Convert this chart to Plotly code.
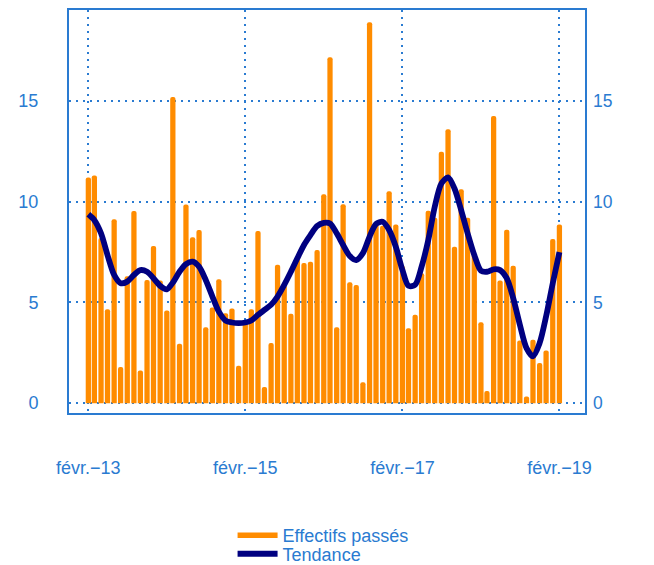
import pandas as pd
import plotly.graph_objects as go

# ---- data ----
months = pd.date_range("2013-02-01", periods=73, freq="MS")
effectifs = [11.2, 11.3, 8.2, 4.66, 9.12, 1.79, 6.3, 9.53, 1.62, 6.11,
             7.8, 6.08, 4.6, 15.19, 2.95, 9.86, 8.23, 8.59, 3.77, 4.74,
             6.15, 4.46, 4.7, 1.86, 4.0, 4.66, 8.54, 0.8, 2.98, 6.87,
             5.85, 4.43, 7.17, 6.95, 7.02, 7.6, 10.36, 17.17, 3.77, 9.87,
             6.0, 5.86, 1.03, 18.9, 8.89, 8.8, 10.52, 8.87, 6.8, 3.72,
             4.38, 6.44, 9.55, 9.2, 12.47, 13.59, 7.76, 10.62, 9.2, 7.4,
             4.01, 0.6, 14.25, 6.08, 8.6, 6.82, 3.11, 0.33, 3.15, 1.99,
             2.61, 8.14, 8.87]
tendance = [9.37, 9.08, 8.43, 7.35, 6.36, 5.95, 6.03, 6.36, 6.6, 6.52,
            6.2, 5.82, 5.65, 5.98, 6.52, 6.9, 7.02, 6.77, 6.11, 5.29,
            4.54, 4.1, 4.0, 3.97, 4.0, 4.1, 4.38, 4.63, 4.88, 5.29,
            5.87, 6.52, 7.19, 7.85, 8.34, 8.79, 8.95, 8.92, 8.43, 7.85,
            7.3, 7.1, 7.44, 8.26, 8.89, 9.0, 8.59, 7.76, 6.6, 5.82,
            5.87, 6.77, 8.09, 9.74, 10.9, 11.2, 10.65, 9.58, 8.43, 7.35,
            6.57, 6.52, 6.64, 6.6, 6.2, 5.21, 3.89, 2.73, 2.32, 2.98,
            4.3, 5.95, 7.49]
x_tickvals = ["2013-02-01", "2015-02-01", "2017-02-01", "2019-02-01"]
x_ticktext = ["févr.−13", "févr.−15", "févr.−17", "févr.−19"]
y_tickvals = [0, 5, 10, 15]

BLUE = "#2a7bd1"
ORANGE = "#ff8c00"
NAVY = "#000080"
FONT = "Liberation Sans, Arial, sans-serif"

DAY_MS = 86400000
bar_width = 24.5 * DAY_MS

fig = go.Figure()
fig.add_trace(go.Bar(x=months, y=effectifs, width=[bar_width] * len(months),
                     marker=dict(color=ORANGE, line=dict(width=0)),
                     showlegend=False, name="Effectifs passés"))
fig.add_trace(go.Scatter(x=months, y=tendance, mode="lines",
                         line=dict(color=NAVY, width=5.8, shape="spline", smoothing=0.8),
                         name="Tendance", legend="legend2"))
# legend entry (line style) for the bars; also carries the right-hand axis
fig.add_trace(go.Scatter(x=[None], y=[None], mode="lines", yaxis="y2",
                         line=dict(color=ORANGE, width=5.5),
                         name="Effectifs passés", legend="legend"))

yrange = [-0.49, 19.51]
fig.update_layout(
    width=654, height=565,
    margin=dict(l=61, r=77, t=2, b=160, autoexpand=False),
    plot_bgcolor="white", paper_bgcolor="white",
    font=dict(family=FONT, size=18, color=BLUE),
    barcornerradius=2.7,
    xaxis=dict(
        type="date",
        range=["2012-11-03", "2019-05-31"],
        tickvals=x_tickvals, ticktext=x_ticktext,
        showgrid=True, gridcolor=BLUE, gridwidth=1.5, griddash="2px,5px",
        showline=True, linecolor=BLUE, linewidth=2, mirror=True,
        ticks="", ticklabelstandoff=37, automargin=False,
        tickfont=dict(size=18, color=BLUE),
        zeroline=False,
    ),
    yaxis=dict(
        range=yrange, tickvals=y_tickvals,
        showgrid=True, gridcolor=BLUE, gridwidth=1.5, griddash="2px,5px",
        showline=True, linecolor=BLUE, linewidth=2, mirror=True,
        zeroline=False, ticks="", ticklabelstandoff=25, automargin=False,
        tickfont=dict(size=18, color=BLUE),
    ),
    yaxis2=dict(
        range=yrange, tickvals=y_tickvals, overlaying="y", side="right",
        showgrid=False, zeroline=False, showline=False, ticks="",
        ticklabelstandoff=7, automargin=False,
        tickfont=dict(size=17.5, color=BLUE),
    ),
    legend=dict(x=0.317, y=-0.304, xanchor="left", yanchor="middle",
                font=dict(size=18, color=BLUE), itemwidth=40,
                bgcolor="rgba(0,0,0,0)"),
    legend2=dict(x=0.317, y=-0.350, xanchor="left", yanchor="middle",
                 font=dict(size=18, color=BLUE), itemwidth=40,
                 bgcolor="rgba(0,0,0,0)"),
)

fig.write_html("out.html")
